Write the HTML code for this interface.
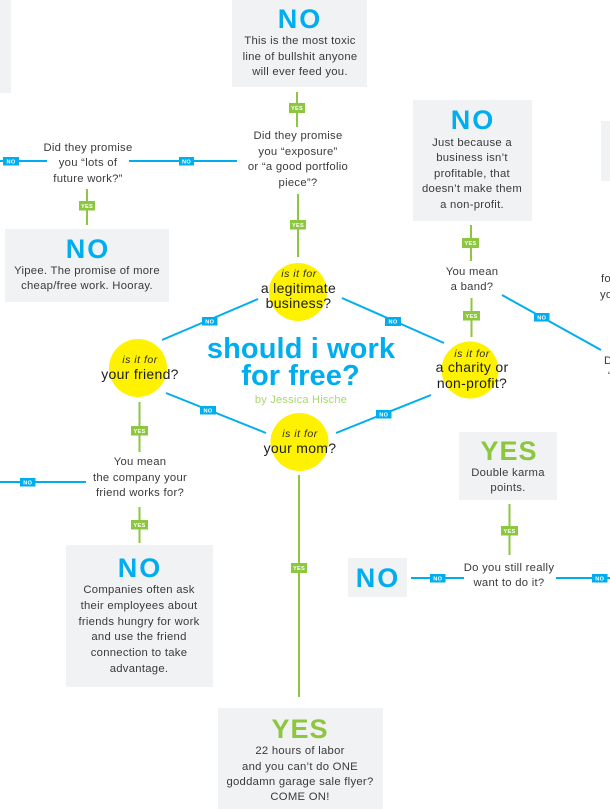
<!DOCTYPE html>
<html>
<head>
<meta charset="utf-8">
<style>
html,body{margin:0;padding:0;background:#fff;width:610px;height:809px;overflow:hidden}
svg{display:block;position:absolute;left:0;top:0}
text{font-family:"Liberation Sans",sans-serif}
.t{font-size:11.3px;fill:#3a3a3c;text-anchor:middle;letter-spacing:.27px}
.c{font-size:14px;fill:#1c1c1c;text-anchor:middle;letter-spacing:.3px}
.i{font-size:10.5px;fill:#2a2a2a;text-anchor:middle;font-style:italic;letter-spacing:.5px}
.n{font-size:27px;font-weight:bold;fill:#00aeef;text-anchor:middle;letter-spacing:2px}
.y{font-size:27px;font-weight:bold;fill:#8dc63f;text-anchor:middle;letter-spacing:1px}
.l{font-size:5.6px;font-weight:bold;fill:#fff;text-anchor:middle;letter-spacing:.3px}
.b{fill:#00aeef}.g{fill:#8dc63f}
.box{fill:#f1f2f4}
.ls{stroke:#8dc63f;stroke-width:2;fill:none}
.lb{stroke:#00aeef;stroke-width:2;fill:none}
</style>
</head>
<body>
<svg width="610" height="809" viewBox="0 0 610 809" xmlns="http://www.w3.org/2000/svg">
<!-- gray boxes -->
<rect class="box" x="0" y="0" width="11" height="93"/>
<rect class="box" x="232" y="0" width="135" height="87"/>
<rect class="box" x="5" y="229" width="164" height="73"/>
<rect class="box" x="413" y="100" width="119" height="121"/>
<rect class="box" x="601" y="121" width="9" height="60"/>
<rect class="box" x="459" y="432" width="98" height="68"/>
<rect class="box" x="348" y="558" width="59" height="39"/>
<rect class="box" x="66" y="545" width="147" height="142"/>
<rect class="box" x="218" y="708" width="165" height="101"/>

<!-- circles -->
<circle cx="298" cy="292" r="29" fill="#fff200"/>
<circle cx="138" cy="368" r="29" fill="#fff200"/>
<circle cx="299.5" cy="442" r="29" fill="#fff200"/>
<circle cx="470" cy="370" r="28.5" fill="#fff200"/>

<!-- green connectors -->
<line class="ls" x1="297" y1="92" x2="297" y2="127"/>
<line class="ls" x1="298" y1="194" x2="298" y2="257"/>
<line class="ls" x1="87" y1="189" x2="87" y2="225"/>
<line class="ls" x1="471" y1="225" x2="471" y2="261"/>
<line class="ls" x1="471.5" y1="298" x2="471.5" y2="337"/>
<line class="ls" x1="139.5" y1="402" x2="139.5" y2="452"/>
<line class="ls" x1="139.5" y1="507" x2="139.5" y2="543"/>
<line class="ls" x1="299" y1="475" x2="299" y2="697"/>
<line class="ls" x1="509.5" y1="504" x2="509.5" y2="555"/>

<!-- blue connectors -->
<line class="lb" x1="0" y1="161" x2="47" y2="161"/>
<line class="lb" x1="129" y1="161" x2="237" y2="161"/>
<line class="lb" x1="502" y1="295" x2="601" y2="350"/>
<line class="lb" x1="342" y1="298" x2="444" y2="343"/>
<line class="lb" x1="258" y1="299" x2="162" y2="340"/>
<line class="lb" x1="166" y1="393" x2="266" y2="433"/>
<line class="lb" x1="336" y1="433" x2="431" y2="395"/>
<line class="lb" x1="0" y1="482" x2="86" y2="482"/>
<line class="lb" x1="411" y1="578" x2="464" y2="578"/>
<line class="lb" x1="556" y1="578" x2="610" y2="578"/>

<!-- YES tags -->
<rect class="g" x="289" y="103" width="16" height="10"/><text class="l" x="297" y="110">YES</text>
<rect class="g" x="290" y="220" width="16" height="9.500"/><text class="l" x="298" y="227">YES</text>
<rect class="g" x="79" y="201" width="16" height="9.500"/><text class="l" x="87" y="208">YES</text>
<rect class="g" x="462" y="238" width="17" height="10"/><text class="l" x="470.500" y="245">YES</text>
<rect class="g" x="463" y="311" width="17" height="9.500"/><text class="l" x="471.500" y="318">YES</text>
<rect class="g" x="131" y="426" width="17" height="9.500"/><text class="l" x="139.500" y="433">YES</text>
<rect class="g" x="131" y="520" width="17" height="9.500"/><text class="l" x="139.500" y="527">YES</text>
<rect class="g" x="291" y="563" width="16" height="10"/><text class="l" x="299" y="570">YES</text>
<rect class="g" x="501" y="526" width="17" height="9.500"/><text class="l" x="509.500" y="533">YES</text>

<!-- NO tags -->
<rect class="b" x="3" y="157" width="16" height="8.500"/><text class="l" x="11" y="163.300">NO</text>
<rect class="b" x="179" y="157" width="15" height="8.500"/><text class="l" x="186.500" y="163.300">NO</text>
<rect class="b" x="534" y="313" width="15.500" height="8.500"/><text class="l" x="541.750" y="319.300">NO</text>
<rect class="b" x="385" y="317" width="16" height="9"/><text class="l" x="393" y="323.500">NO</text>
<rect class="b" x="202" y="317" width="15.500" height="8.500"/><text class="l" x="209.750" y="323.300">NO</text>
<rect class="b" x="200" y="406" width="16" height="8.500"/><text class="l" x="208" y="412.300">NO</text>
<rect class="b" x="376" y="410" width="15.500" height="8.500"/><text class="l" x="383.750" y="416.300">NO</text>
<rect class="b" x="20" y="478" width="15.500" height="8.500"/><text class="l" x="27.750" y="484.300">NO</text>
<rect class="b" x="430" y="574" width="15.500" height="8.500"/><text class="l" x="437.750" y="580.300">NO</text>
<rect class="b" x="592" y="574" width="15.500" height="8.500"/><text class="l" x="599.750" y="580.300">NO</text>

<!-- top NO -->
<text class="n" x="300" y="28">NO</text>
<text class="t" x="300" y="44">This is the most toxic</text>
<text class="t" x="300" y="60">line of bullshit anyone</text>
<text class="t" x="300" y="75">will ever feed you.</text>

<!-- exposure -->
<text class="t" x="298" y="139">Did they promise</text>
<text class="t" x="298" y="155">you “exposure”</text>
<text class="t" x="298" y="170">or “a good portfolio</text>
<text class="t" x="298" y="186">piece”?</text>

<!-- lots of future -->
<text class="t" x="88" y="151">Did they promise</text>
<text class="t" x="88" y="166">you “lots of</text>
<text class="t" x="88" y="182">future work?”</text>

<!-- Yipee -->
<text class="n" x="88" y="258">NO</text>
<text class="t" x="87" y="274">Yipee. The promise of more</text>
<text class="t" x="87" y="289">cheap/free work. Hooray.</text>

<!-- Just because -->
<text class="n" x="473" y="129">NO</text>
<text class="t" x="472" y="146">Just because a</text>
<text class="t" x="472" y="161">business isn’t</text>
<text class="t" x="472" y="177">profitable, that</text>
<text class="t" x="472" y="192">doesn’t make them</text>
<text class="t" x="472" y="208">a non-profit.</text>

<!-- band -->
<text class="t" x="472" y="275">You mean</text>
<text class="t" x="472" y="290">a band?</text>

<!-- clipped right -->
<text class="t" style="text-anchor:start" x="601" y="282">for</text>
<text class="t" style="text-anchor:start" x="600" y="298">you</text>
<text class="t" style="text-anchor:start" x="604" y="364">Did</text>
<text class="t" style="text-anchor:start" x="608" y="379">“</text>

<!-- circles text -->
<text class="i" x="299" y="277">is it for</text>
<text class="c" x="298.500" y="293">a legitimate</text>
<text class="c" x="298.500" y="308">business?</text>

<text class="i" x="140" y="363">is it for</text>
<text class="c" x="140" y="379">your friend?</text>

<text class="i" x="300" y="437">is it for</text>
<text class="c" x="300" y="453">your mom?</text>

<text class="i" x="472" y="357">is it for</text>
<text class="c" x="472" y="372">a charity or</text>
<text class="c" x="472" y="388">non-profit?</text>

<!-- title -->
<text x="301" y="358" font-size="29" font-weight="bold" fill="#00aeef" text-anchor="middle" letter-spacing=".1">should i work</text>
<text x="300.500" y="385" font-size="29" font-weight="bold" fill="#00aeef" text-anchor="middle" letter-spacing=".1">for free?</text>
<text x="301" y="403" font-size="11" fill="#a9d66f" text-anchor="middle" letter-spacing=".25">by Jessica Hische</text>

<!-- friend company -->
<text class="t" x="140" y="465">You mean</text>
<text class="t" x="140" y="481">the company your</text>
<text class="t" x="140" y="496">friend works for?</text>

<!-- Companies -->
<text class="n" x="140" y="577">NO</text>
<text class="t" x="139" y="593">Companies often ask</text>
<text class="t" x="139" y="609">their employees about</text>
<text class="t" x="139" y="625">friends hungry for work</text>
<text class="t" x="139" y="640">and use the friend</text>
<text class="t" x="139" y="656">connection to take</text>
<text class="t" x="139" y="672">advantage.</text>

<!-- bottom YES -->
<text class="y" x="300" y="738">YES</text>
<text class="t" x="300" y="754">22 hours of labor</text>
<text class="t" x="300" y="770">and you can’t do ONE</text>
<text class="t" x="300" y="785">goddamn garage sale flyer?</text>
<text class="t" x="300" y="800">COME ON!</text>

<!-- Double karma -->
<text class="y" x="509" y="460">YES</text>
<text class="t" x="508" y="476">Double karma</text>
<text class="t" x="508" y="491">points.</text>

<!-- small NO -->
<text class="n" x="378" y="587">NO</text>

<!-- still want -->
<text class="t" x="509" y="571">Do you still really</text>
<text class="t" x="509" y="586">want to do it?</text>
</svg>
</body>
</html>
